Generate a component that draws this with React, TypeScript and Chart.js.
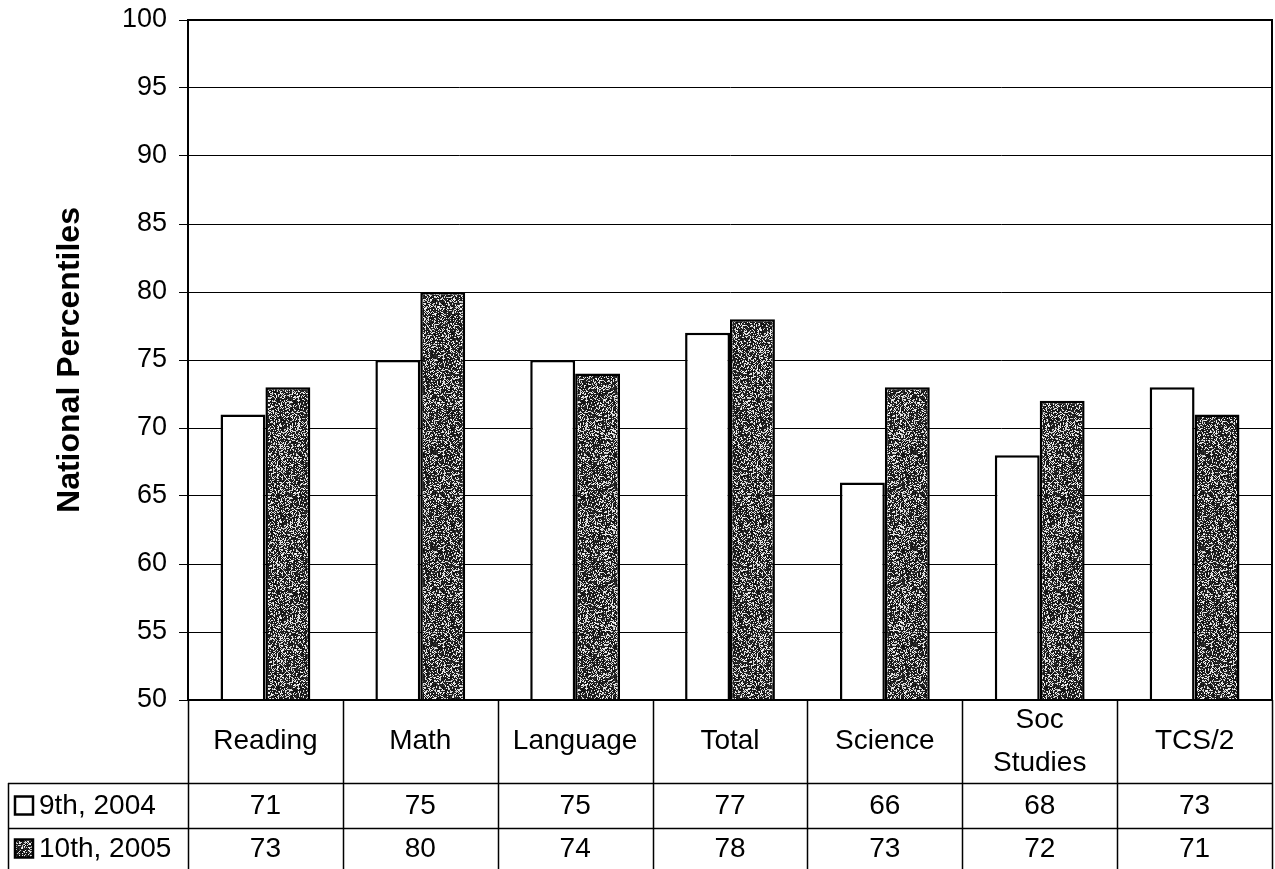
import React, { useEffect, useRef } from "react";
import { Chart, registerables } from "chart.js";

Chart.register(...registerables);

// Subjects, with multi-word labels split across lines in the table header
const categories: string[][] = [
  ["Reading"],
  ["Math"],
  ["Language"],
  ["Total"],
  ["Science"],
  ["Soc", "Studies"],
  ["TCS/2"],
];

const seriesNames = ["9th, 2004", "10th, 2005"];
const grade9th2004 = [71, 75, 75, 77, 66, 68, 73];
const grade10th2005 = [73, 80, 74, 78, 73, 72, 71];

const yMin = 50;
const yMax = 100;
const yStep = 5;
const yTitle = "National Percentiles";

const FONT = '"Liberation Sans", Arial, Helvetica, sans-serif';

// Speckled dark-gray fill, like a halftone texture
function makeSpecklePattern(): CanvasPattern | string {
  const size = 96;
  const c = document.createElement("canvas");
  c.width = size;
  c.height = size;
  const g = c.getContext("2d");
  if (!g) return "#555";
  const img = g.createImageData(size, size);
  let seed = 1234567;
  const next = () => {
    seed = (seed * 1103515245 + 12345) & 0x7fffffff;
    return seed / 0x7fffffff;
  };
  for (let i = 0; i < size * size; i++) {
    const r = next();
    const v = r < 0.66 ? 10 + Math.floor(next() * 40) : 190 + Math.floor(next() * 65);
    img.data[i * 4] = v;
    img.data[i * 4 + 1] = v;
    img.data[i * 4 + 2] = v;
    img.data[i * 4 + 3] = 255;
  }
  g.putImageData(img, 0, 0);
  return g.createPattern(c, "repeat") || "#555";
}

export default function App() {
  const canvasRef = useRef<HTMLCanvasElement | null>(null);

  useEffect(() => {
    const canvas = canvasRef.current;
    if (!canvas) return;
    const speckle = makeSpecklePattern();

    const tablePlugin = {
      id: "dataTable",
      afterDraw(chart: any) {
        const ctx = chart.ctx as CanvasRenderingContext2D;
        const area = chart.chartArea;
        const left = area.left;
        const right = area.right;
        const top = area.top;
        const bottom = area.bottom;
        const n = categories.length;
        const cw = (right - left) / n;
        const headerBottom = bottom + 83;
        const row1Bottom = headerBottom + 45;
        const tableBottom = chart.height;
        const legendLeft = 8;

        ctx.save();
        ctx.strokeStyle = "#000";
        ctx.fillStyle = "#000";

        // plot frame
        ctx.lineWidth = 2;
        ctx.strokeRect(left, top, right - left, bottom - top);

        // table grid
        ctx.lineWidth = 1.5;
        ctx.beginPath();
        for (let i = 0; i <= n; i++) {
          const x = Math.round(left + i * cw) + 0.5;
          ctx.moveTo(x, bottom);
          ctx.lineTo(x, tableBottom);
        }
        ctx.moveTo(legendLeft + 0.5, headerBottom);
        ctx.lineTo(legendLeft + 0.5, tableBottom);
        ctx.moveTo(legendLeft, headerBottom + 0.5);
        ctx.lineTo(right, headerBottom + 0.5);
        ctx.moveTo(legendLeft, row1Bottom + 0.5);
        ctx.lineTo(right, row1Bottom + 0.5);
        ctx.stroke();

        ctx.font = `28px ${FONT}`;
        ctx.textAlign = "center";
        ctx.textBaseline = "middle";

        // category headers
        const headerMid = (bottom + headerBottom) / 2;
        categories.forEach((lines, i) => {
          const cx = left + (i + 0.5) * cw;
          const lh = 43;
          const y0 = headerMid - ((lines.length - 1) * lh) / 2;
          lines.forEach((t, j) => ctx.fillText(t, cx, y0 + j * lh));
        });

        // value rows
        const rows = [grade9th2004, grade10th2005];
        const rowMids = [(headerBottom + row1Bottom) / 2, (row1Bottom + tableBottom) / 2];
        rows.forEach((vals, r) => {
          vals.forEach((v, i) => {
            ctx.fillText(String(v), left + (i + 0.5) * cw, rowMids[r] + 1);
          });
        });

        // legend keys
        ctx.textAlign = "left";
        rows.forEach((_, r) => {
          const ky = rowMids[r] - 9;
          if (r === 1) {
            ctx.fillStyle = speckle as any;
            ctx.fillRect(15, ky, 18, 18);
          } else {
            ctx.fillStyle = "#fff";
            ctx.fillRect(15, ky, 18, 18);
          }
          ctx.lineWidth = 2.5;
          ctx.strokeStyle = "#000";
          ctx.strokeRect(15, ky, 18, 18);
          ctx.fillStyle = "#000";
          ctx.fillText(seriesNames[r], 39, rowMids[r] + 1);
        });

        // y-axis title
        ctx.save();
        ctx.translate(70, (top + bottom) / 2);
        ctx.rotate(-Math.PI / 2);
        ctx.font = `bold 32px ${FONT}`;
        ctx.textAlign = "center";
        ctx.textBaseline = "middle";
        ctx.fillText(yTitle, 0, 0);
        ctx.restore();

        ctx.restore();
      },
    };

    const chart = new Chart(canvas, {
      type: "bar",
      data: {
        labels: categories.map((l) => l.join(" ")),
        datasets: [
          {
            label: seriesNames[0],
            data: grade9th2004,
            backgroundColor: "#ffffff",
            borderColor: "#000000",
            borderWidth: 2.5,
            borderSkipped: false,
          },
          {
            label: seriesNames[1],
            data: grade10th2005,
            backgroundColor: speckle as any,
            borderColor: "#000000",
            borderWidth: 2.5,
            borderSkipped: false,
          },
        ],
      },
      options: {
        responsive: false,
        animation: false,
        layout: { padding: { left: 0, right: 3, top: 20, bottom: 169 } },
        datasets: {
          bar: { categoryPercentage: 0.58, barPercentage: 1 },
        },
        plugins: {
          legend: { display: false },
          tooltip: { enabled: false },
          title: { display: false },
        },
        scales: {
          x: {
            display: false,
          },
          y: {
            min: yMin,
            max: yMax,
            ticks: {
              stepSize: yStep,
              color: "#000",
              font: { family: FONT, size: 27 },
              padding: 12,
            },
            grid: {
              color: "#000",
              lineWidth: 1,
              tickLength: 9,
              drawTicks: true,
            },
            border: { display: true, color: "#000", width: 2 },
            afterFit(scale: any) {
              scale.width = 188;
              scale.paddingTop = 0;
              scale.paddingBottom = 0;
            },
          },
        },
      },
      plugins: [tablePlugin],
    });

    return () => chart.destroy();
  }, []);

  return (
    <div style={{ position: "fixed", left: 0, top: 0, width: 1275, height: 869, background: "#fff" }}>
      <canvas ref={canvasRef} width={1275} height={869} style={{ display: "block" }} />
    </div>
  );
}
